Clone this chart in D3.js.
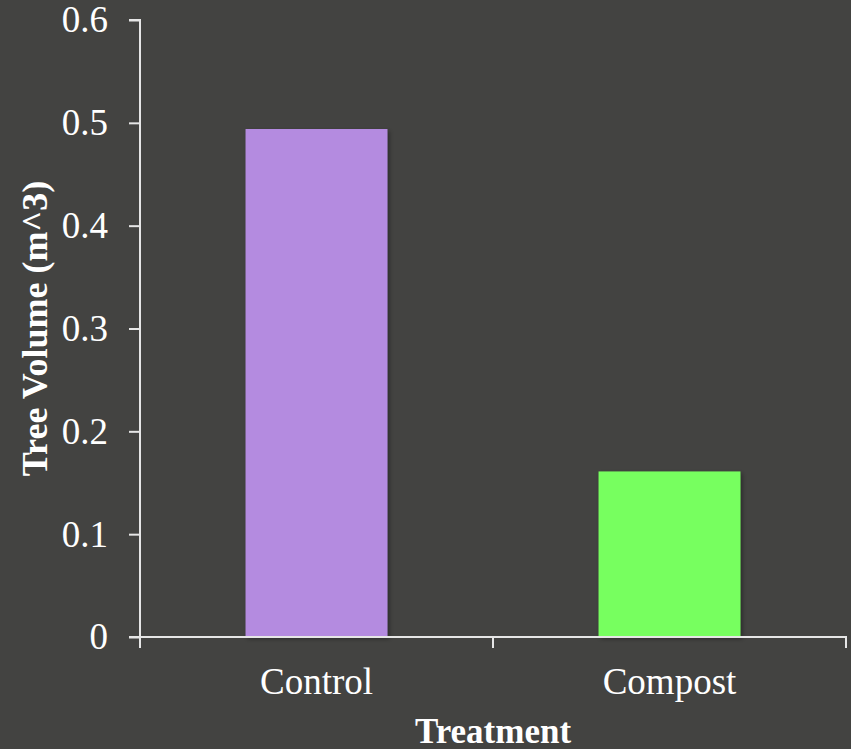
<!DOCTYPE html>
<html>
<head>
<meta charset="utf-8">
<script src="https://cdn.jsdelivr.net/npm/d3@7/dist/d3.min.js"></script>
<style>
  html, body { margin: 0; padding: 0; background: #434341; }
  svg { display: block; }
</style>
</head>
<body>
<svg id="chart" width="851" height="749"></svg>
<script>
const categories = ["Control", "Compost"];
const volumes = [0.494, 0.161];
const barColors = ["#b48be0", "#77ff5f"];
const yTicks = [0, 0.1, 0.2, 0.3, 0.4, 0.5, 0.6];
const yTickLabels = ["0", "0.1", "0.2", "0.3", "0.4", "0.5", "0.6"];

(function () {
  const svg = d3.select("#chart");
  const W = 851, H = 749;
  const mLeft = 140, mRight = 846, mTop = 20, mBottom = 637;

  svg.append("rect").attr("width", W).attr("height", H).attr("fill", "#434341");

  const defs = svg.append("defs");
  const f = defs.append("filter").attr("id", "shadow")
    .attr("x", "-10%").attr("y", "-10%").attr("width", "130%").attr("height", "130%");
  f.append("feDropShadow").attr("dx", 2).attr("dy", 2).attr("stdDeviation", 2)
    .attr("flood-color", "#000").attr("flood-opacity", 0.35);

  const x = d3.scaleBand().domain(categories).range([mLeft, mRight]).padding(0);
  const y = d3.scaleLinear().domain([0, 0.6]).range([mBottom, mTop]);

  const barW = x.bandwidth() * 0.402;

  svg.append("g").selectAll("rect")
    .data(categories)
    .join("rect")
    .attr("x", (d) => x(d) + (x.bandwidth() - barW) / 2)
    .attr("y", (d, i) => y(volumes[i]))
    .attr("width", barW)
    .attr("height", (d, i) => y(0) - y(volumes[i]))
    .attr("fill", (d, i) => barColors[i])
    .attr("filter", "url(#shadow)");

  const axisColor = "#e6e6e6";
  const font = "'Liberation Serif', 'Times New Roman', serif";

  // Y axis
  const yAxis = d3.axisLeft(y).tickValues(yTicks)
    .tickFormat((d, i) => yTickLabels[i]).tickSize(11).tickPadding(21);
  const gy = svg.append("g").attr("transform", `translate(${mLeft},0)`).call(yAxis);
  gy.select(".domain").attr("stroke", axisColor).attr("stroke-width", 2)
    .attr("d", `M-11,${mTop}H0V${mBottom}`);
  gy.selectAll(".tick line").attr("stroke", axisColor).attr("stroke-width", 2);
  gy.selectAll(".tick text").attr("fill", "#ffffff")
    .style("font-family", font).style("font-size", "37px");

  // X axis with ticks at category boundaries
  const gx = svg.append("g").attr("transform", `translate(0,${mBottom})`);
  gx.append("line").attr("x1", mLeft - 11).attr("x2", mRight + 1)
    .attr("y1", 0).attr("y2", 0).attr("stroke", axisColor).attr("stroke-width", 2);
  const boundaries = categories.map((c) => x(c)).concat([x(categories[categories.length - 1]) + x.bandwidth()]);
  gx.selectAll("line.tk").data(boundaries).join("line").attr("class", "tk")
    .attr("x1", (d) => d).attr("x2", (d) => d).attr("y1", 0).attr("y2", 11)
    .attr("stroke", axisColor).attr("stroke-width", 2);
  gx.selectAll("text").data(categories).join("text")
    .attr("x", (d) => x(d) + x.bandwidth() / 2)
    .attr("y", 57)
    .attr("text-anchor", "middle")
    .attr("fill", "#ffffff")
    .style("font-family", font).style("font-size", "37px")
    .text((d) => d);

  // Axis titles
  svg.append("text").attr("x", (mLeft + mRight) / 2).attr("y", 743)
    .attr("text-anchor", "middle").attr("fill", "#ffffff")
    .style("font-family", font).style("font-size", "35px").style("font-weight", "bold")
    .text("Treatment");

  svg.append("text")
    .attr("transform", `translate(47,${(mTop + mBottom) / 2}) rotate(-90)`)
    .attr("text-anchor", "middle").attr("fill", "#ffffff")
    .style("font-family", font).style("font-size", "36px").style("font-weight", "bold")
    .text("Tree Volume (m^3)");
})();
</script>
</body>
</html>
